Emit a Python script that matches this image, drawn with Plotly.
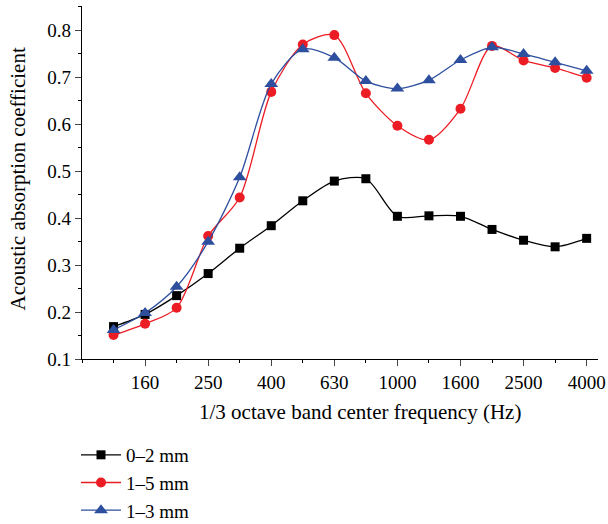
import plotly.graph_objects as go

freqs = ["125", "160", "200", "250", "315", "400", "500", "630", "800",
         "1000", "1250", "1600", "2000", "2500", "3150", "4000"]
s02 = [0.169, 0.195, 0.235, 0.282, 0.336, 0.384, 0.437, 0.479, 0.484,
       0.404, 0.405, 0.404, 0.376, 0.353, 0.339, 0.357]
s15 = [0.151, 0.175, 0.209, 0.362, 0.444, 0.669, 0.770, 0.790, 0.666,
       0.597, 0.567, 0.633, 0.767, 0.736, 0.720, 0.699]
s13 = [0.162, 0.198, 0.254, 0.350, 0.487, 0.686, 0.760, 0.742, 0.692,
       0.676, 0.694, 0.737, 0.764, 0.750, 0.732, 0.714]
names = ["0–2 mm", "1–5 mm", "1–3 mm"]
labeled = ["160", "250", "400", "630", "1000", "1600", "2500", "4000"]

x = list(range(len(freqs)))
tickvals = [freqs.index(f) for f in labeled]

FONT = "Liberation Serif"
fig = go.Figure()
styles = [
    (s02, "black", "square", 9),
    (s15, "#EC1C24", "circle", 10),
    (s13, "#2E4E9E", "triangle-up", 12),
]
for i, (ys, col, sym, sz) in enumerate(styles):
    fig.add_trace(go.Scatter(
        x=x, y=ys, name=names[i], mode="lines+markers",
        line=dict(color=col, width=1.3, shape="spline", smoothing=0.8),
        marker=dict(symbol=sym, size=sz, color=col),
        legendgroup=str(i),
    ))

fig.update_layout(
    width=608, height=524,
    margin=dict(l=82, r=10, t=6, b=165, autoexpand=False),
    paper_bgcolor="white", plot_bgcolor="white",
    font=dict(family=FONT, size=19, color="black"),
    showlegend=True,
    legend=dict(xref="container", yref="container", x=0.125, y=0.168,
                xanchor="left", yanchor="top",
                font=dict(family=FONT, size=19), tracegroupgap=0,
                itemwidth=40, bgcolor="rgba(0,0,0,0)"),
    xaxis=dict(range=[-1, 15.36], tickmode="array", tickvals=tickvals,
               ticktext=labeled, ticks="outside", ticklen=6, tickwidth=1,
               showline=True, linecolor="black", linewidth=1.3, showgrid=False,
               zeroline=False, automargin=False,
               minor=dict(tickmode="linear", tick0=0, dtick=1, ticks="outside",
                          ticklen=3, tickcolor="black", showgrid=False)),
    yaxis=dict(range=[0.1, 0.852], tickmode="linear", tick0=0.1, dtick=0.1,
               tickformat=".1f", ticks="outside", ticklen=6, tickwidth=1,
               showline=True, linecolor="black", linewidth=1.3, showgrid=False,
               zeroline=False, automargin=False,
               minor=dict(tickmode="linear", tick0=0.1, dtick=0.05, ticks="outside",
                          ticklen=3, tickcolor="black", showgrid=False)),
    annotations=[
        dict(text="1/3 octave band center frequency (Hz)", xref="paper", yref="paper",
             x=0.5385, y=-0.15, xanchor="center", yanchor="middle", showarrow=False,
             font=dict(family=FONT, size=21)),
        dict(text="Acoustic absorption coefficient", xref="paper", yref="paper",
             x=-0.125, y=0.51, xanchor="center", yanchor="middle", showarrow=False,
             textangle=-90, font=dict(family=FONT, size=21)),
    ],
)

fig.write_html("out.html")
